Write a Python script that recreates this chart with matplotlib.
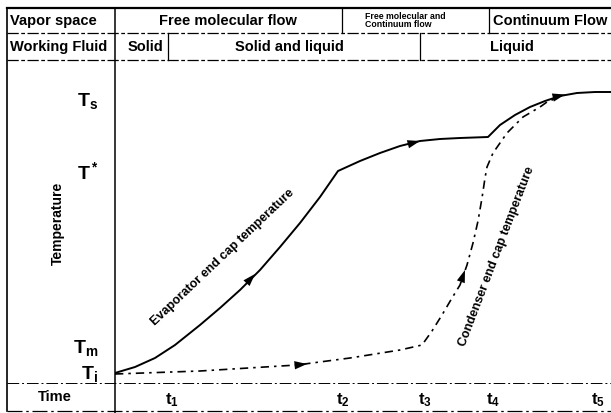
import matplotlib.pyplot as plt
from matplotlib.lines import Line2D

plt.rcParams['font.family'] = ['Liberation Sans', 'DejaVu Sans']
plt.rcParams['font.weight'] = 'bold'
plt.rcParams['mathtext.fontset'] = 'custom'
plt.rcParams['mathtext.rm'] = 'Liberation Sans:bold'
plt.rcParams['mathtext.it'] = 'Liberation Sans:bold'
plt.rcParams['mathtext.bf'] = 'Liberation Sans:bold'

### data (time / temperature in arbitrary units) ###
time_ticks = [0.57, 2.28, 3.10, 3.78, 4.83]
time_labels = ['$\\mathregular{t_1}$', '$\\mathregular{t_2}$', '$\\mathregular{t_3}$',
               '$\\mathregular{t_4}$', '$\\mathregular{t_5}$']
temp_ticks = [0.11, 0.38, 2.13, 2.85]
temp_labels = ['$\\mathregular{T_i}$', '$\\mathregular{T_m}$', '$\\mathregular{T^*}$',
               '$\\mathregular{T_s}$']

evap_t = [0.0, 0.2, 0.4, 0.6, 0.85, 1.05, 1.25, 1.45, 1.65, 1.85, 2.05, 2.23,
          2.45, 2.65, 2.85, 3.05, 3.25, 3.45, 3.73,
          3.85, 4.0, 4.15, 4.30, 4.45, 4.62, 4.80, 4.96]
evap_T = [0.10, 0.16, 0.25, 0.38, 0.58, 0.75, 0.93, 1.13, 1.36, 1.60, 1.86, 2.12,
          2.22, 2.30, 2.37, 2.42, 2.44, 2.45, 2.46,
          2.58, 2.68, 2.76, 2.82, 2.87, 2.90, 2.91, 2.91]

cond_t = [0.0, 0.85, 1.82, 2.35, 2.85, 3.07, 3.17, 3.27, 3.37, 3.45, 3.52, 3.58,
          3.63, 3.67, 3.70, 3.72, 3.78, 3.92, 4.08, 4.25, 4.32, 4.42]
cond_T = [0.09, 0.12, 0.18, 0.25, 0.33, 0.38, 0.52, 0.68, 0.85, 0.98, 1.18, 1.40,
          1.62, 1.85, 2.05, 2.16, 2.30, 2.50, 2.66, 2.76, 2.81, 2.85]

# arrowheads: (tail, tip) along each curve
evap_arrows = [((1.28, 0.96), (1.40, 1.09)), ((2.90, 2.38), (3.05, 2.42)),
               ((4.36, 2.85), (4.50, 2.885))]
cond_arrows = [((1.74, 0.172), (1.92, 0.19)), ((3.44, 0.96), (3.50, 1.13))]

W, H = 611, 413
fig = plt.figure(figsize=(W / 100, H / 100), dpi=100)

# overlay in pixel coords for the table frame and row labels
ov = fig.add_axes([0, 0, 1, 1])
ov.set_xlim(0, W)
ov.set_ylim(H, 0)
ov.axis('off')

def hline(y, x0=7, x1=W, **kw):
    ov.add_line(Line2D([x0, x1], [y, y], color='k', **kw))

def vline(x, y0, y1, **kw):
    ov.add_line(Line2D([x, x], [y0, y1], color='k', **kw))

hline(8, lw=1.6)
hline(33, lw=0.9, ls=(0, (9, 2, 3, 2)))
hline(60, lw=0.9, ls=(0, (9, 2, 3, 2)))
hline(383, lw=0.7, ls=(0, (12, 3, 2, 3)))
hline(411, lw=0.9, ls=(0, (12, 3, 2, 3)))
vline(7, 8, 411, lw=1.2)
vline(115, 8, 413, lw=1.1)
vline(342, 8, 33, lw=0.9)
vline(489, 8, 33, lw=0.9)
vline(168, 33, 60, lw=0.9)
vline(420, 33, 60, lw=0.9)

fs = 10.5
ov.text(10, 21, 'Vapor space', fontsize=fs, va='center')
ov.text(10, 47, 'Working Fluid', fontsize=fs, va='center')
ov.text(228, 21, 'Free molecular flow', fontsize=fs, ha='center', va='center')
ov.text(365, 20.5, 'Free molecular and\nContinuum flow', fontsize=6.3, va='center',
        linespacing=0.9)
ov.text(493, 21, 'Continuum Flow', fontsize=fs, va='center')
ov.text(145, 47, 'Solid', fontsize=fs, ha='center', va='center')
ov.text(289, 47, 'Solid and liquid', fontsize=fs, ha='center', va='center')
ov.text(512, 47, 'Liquid', fontsize=fs, ha='center', va='center')
ov.text(55, 397, 'Time', fontsize=fs, ha='center', va='center')
ov.text(58, 223, 'Temperature', fontsize=fs - 0.5, ha='center', va='center', rotation=90)

# main plot area
ax = fig.add_axes([115 / W, 1 - 383 / H, (W - 115) / W, (383 - 60) / H])
ax.set_xlim(0, 4.96)
ax.set_ylim(0, 3.23)
for s in ax.spines.values():
    s.set_visible(False)
ax.patch.set_alpha(0)

ax.plot(evap_t, evap_T, color='k', lw=1.4)
ax.plot(cond_t, cond_T, color='k', lw=1.2, ls=(0, (5, 3, 1.5, 3)))

for tail, tip in evap_arrows + cond_arrows:
    ax.annotate('', xy=tip, xytext=tail,
                arrowprops=dict(arrowstyle='-|>,head_length=0.9,head_width=0.3',
                                color='k', lw=0, shrinkA=0, shrinkB=0))

ax.text(1.08, 1.26, 'Evaporator end cap temperature', fontsize=9, rotation=43.5,
        rotation_mode='anchor', ha='center', va='center')
ax.text(3.82, 1.26, 'Condenser end cap temperature', fontsize=9, rotation=69,
        rotation_mode='anchor', ha='center', va='center')

ax.set_xticks(time_ticks, time_labels, fontsize=12)
ax.set_yticks(temp_ticks, temp_labels, fontsize=14)
ax.tick_params(axis='x', length=0, pad=6)
ax.tick_params(axis='y', length=0, pad=12)

fig.savefig('out.png', dpi=100)
